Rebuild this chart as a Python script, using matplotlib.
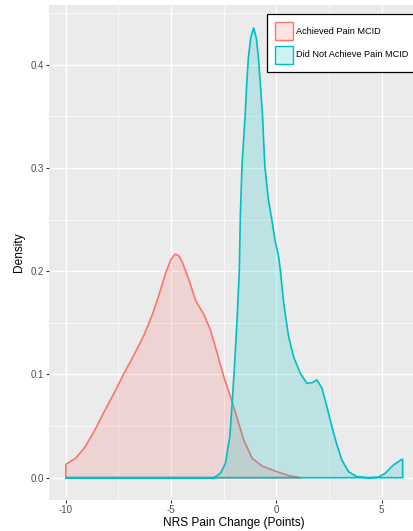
import matplotlib
matplotlib.use("Agg")
import matplotlib.pyplot as plt
from matplotlib.patches import Patch
from matplotlib.colors import to_rgba

plt.rcParams['font.family'] = ['Liberation Sans', 'DejaVu Sans']

# density curves
achieved_x = [-10.0, -9.53, -9.13, -8.66, -8.18, -7.71, -7.24, -6.76, -6.29, -5.89,
              -5.58, -5.26, -5.02, -4.90, -4.79, -4.63, -4.47, -4.15, -3.84, -3.44,
              -3.13, -2.81, -2.50, -2.18, -1.86, -1.55, -1.15, -0.68, 0.03, 0.66, 1.14]
achieved_y = [0.013, 0.019, 0.0285, 0.0446, 0.064, 0.0818, 0.101, 0.119, 0.138, 0.158,
              0.177, 0.198, 0.211, 0.2145, 0.2167, 0.2148, 0.209, 0.1916, 0.172, 0.158,
              0.143, 0.1205, 0.098, 0.0785, 0.0575, 0.0365, 0.0188, 0.0113, 0.0058, 0.0016, 0.0]

not_achieved_x = [-10.0, -2.97, -2.65, -2.42, -2.21, -2.10, -1.99, -1.86, -1.76, -1.71,
                  -1.63, -1.48, -1.41, -1.33, -1.22, -1.08, -0.95, -0.85, -0.76, -0.66,
                  -0.55, -0.39, -0.20, -0.05, 0.11, 0.19, 0.35, 0.58, 0.82, 1.14,
                  1.45, 1.69, 1.93, 2.17, 2.40, 2.64, 2.88, 3.11, 3.43, 3.82,
                  4.37, 4.85, 5.17, 5.56, 5.96, 6.0]
not_achieved_y = [0.0, 0.0, 0.0043, 0.014, 0.040, 0.072, 0.1075, 0.156, 0.20, 0.2546,
                  0.303, 0.352, 0.381, 0.4067, 0.426, 0.4357, 0.426, 0.4067, 0.381, 0.352,
                  0.303, 0.271, 0.248, 0.2287, 0.214, 0.201, 0.169, 0.137, 0.117, 0.101,
                  0.0915, 0.092, 0.0947, 0.0866, 0.0688, 0.0494, 0.0317, 0.0172, 0.0058, 0.001,
                  0.0, 0.0005, 0.0043, 0.0123, 0.0178, 0.0178]

labels = ["Achieved Pain MCID", "Did Not Achieve Pain MCID"]
colors = ["#F8766D", "#00BFC4"]

x_ticks = [-10, -5, 0, 5]
y_ticks = [0.0, 0.1, 0.2, 0.3, 0.4]

fig = plt.figure(figsize=(4.14, 5.31), dpi=100)
ax = fig.add_axes([49 / 414, 30.8 / 531, 370.5 / 414, 495.2 / 531])
ax.set_facecolor("#EBEBEB")
for s in ax.spines.values():
    s.set_visible(False)

for xs, ys, c in [(achieved_x, achieved_y, colors[0]), (not_achieved_x, not_achieved_y, colors[1])]:
    px = [xs[0]] + xs + [xs[-1], xs[0]]
    py = [0] + ys + [0, 0]
    ax.fill(px, py, facecolor=to_rgba(c, 0.2), edgecolor="none", zorder=3)
    ax.plot(px, py, color=c, lw=1.2, zorder=3, solid_joinstyle="round")

ax.set_xlim(-10.8, 6.8)
ax.set_ylim(-0.0218, 0.458)
ax.set_xticks(x_ticks)
ax.set_xticklabels([str(t) for t in x_ticks])
ax.set_yticks(y_ticks)
ax.set_yticklabels([f"{t:.1f}" for t in y_ticks])
ax.set_xticks([-7.5, -2.5, 2.5], minor=True)
ax.set_yticks([0.05, 0.15, 0.25, 0.35, 0.45], minor=True)
ax.grid(which="major", color="white", lw=1.0, zorder=0)
ax.grid(which="minor", color="white", lw=0.5, zorder=0)
ax.set_axisbelow(True)
ax.tick_params(which="major", length=2.2, width=0.8, color="#333333",
               labelsize=7, labelcolor="#4D4D4D", pad=1.5)
ax.tick_params(which="minor", length=0)

ax.set_xlabel("NRS Pain Change (Points)", fontsize=8.6, labelpad=1.5)
ax.set_ylabel("Density", fontsize=8.6, labelpad=4)

handles = [Patch(facecolor=to_rgba(c, 0.2), edgecolor=c, lw=1.0) for c in colors]
leg = fig.legend(handles, labels, loc="upper left",
                 bbox_to_anchor=(267.3 / 414, 1 - 14.3 / 531),
                 bbox_transform=fig.transFigure, fontsize=6.6,
                 handlelength=2.0, handleheight=2.7, labelspacing=0.56,
                 handletextpad=0.3, borderpad=0.85, borderaxespad=0,
                 fancybox=False, framealpha=1)
leg.get_frame().set_edgecolor("black")
leg.get_frame().set_linewidth(0.9)

fig.savefig("out.png", dpi=100)
